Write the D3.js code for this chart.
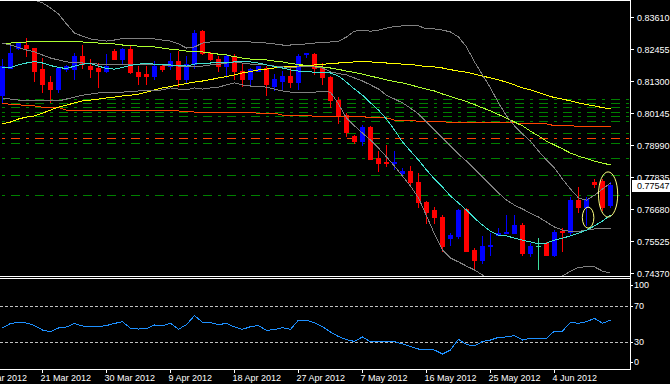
<!DOCTYPE html>
<html><head><meta charset="utf-8">
<script src="https://cdn.jsdelivr.net/npm/d3@7"></script>
<style>
html,body{margin:0;padding:0;background:#000;}
svg{display:block;}
</style></head><body>
<svg id="chart" width="670" height="384"></svg>
<script>
// ---------- DATA ----------
const opens = [.8077,.8178,.8248,.8261,.8248,.8171,.8124,.8099,.8171,.8174,
.8221,.8185,.8178,.8167,.8236,.8210,.8243,.8160,.8153,.8149,
.8182,.8182,.8203,.8135,.8189,.8308,.8232,.8210,.8185,.8218,
.8167,.8138,.8167,.8178,.8113,.8131,.8149,.8124,.8225,.8228,
.8178,.8145,.8062,.8008,.7932,.7911,.7965,.7853,.7837,.7833,
.7799,.7803,.7766,.7694,.7662,.7640,.7564,.7571,.7669,.7521,
.7485,.7534,.7575,.7580,.7582,.7608,.7510,.7532,.7546,.7503,
.7588,.7586,.7698,.7676,.7766,.7770,.7680];
const highs = [.8210,.8254,.8270,.8283,.8250,.8214,.8149,.8178,.8187,.8232,
.8261,.8210,.8196,.8225,.8243,.8250,.8261,.8182,.8182,.8200,
.8189,.8232,.8236,.8218,.8315,.8315,.8234,.8218,.8225,.8225,
.8196,.8178,.8185,.8182,.8156,.8167,.8185,.8228,.8232,.8230,
.8196,.8147,.8073,.8015,.7936,.7972,.7968,.7875,.7900,.7875,
.7817,.7821,.7799,.7696,.7676,.7647,.7582,.7669,.7672,.7528,
.7571,.7582,.7597,.7644,.7644,.7615,.7546,.7564,.7548,.7593,
.7600,.7709,.7748,.7712,.7777,.7777,.7766];
const lows = [.8055,.8176,.8243,.8221,.8131,.8091,.8055,.8091,.8167,.8135,
.8178,.8145,.8109,.8160,.8209,.8189,.8158,.8117,.8117,.8135,
.8167,.8171,.8113,.8127,.8178,.8225,.8205,.8164,.8145,.8138,
.8113,.8113,.8164,.8080,.8095,.8099,.8109,.8099,.8216,.8153,
.8117,.8034,.7979,.7929,.7904,.7900,.7848,.7806,.7821,.7813,
.7792,.7752,.7676,.7618,.7618,.7514,.7539,.7561,.7516,.7456,
.7474,.7503,.7573,.7579,.7580,.7503,.7496,.7452,.7501,.7496,
.7514,.7575,.7658,.7611,.7748,.7662,.7674];
const closes = [.8182,.8232,.8268,.8247,.8165,.8120,.8102,.8176,.8182,.8221,
.8192,.8174,.8167,.8182,.8210,.8243,.8160,.8149,.8149,.8182,
.8174,.8203,.8135,.8189,.8304,.8232,.8207,.8185,.8218,.8164,
.8138,.8171,.8182,.8117,.8135,.8149,.8124,.8221,.8230,.8178,
.8142,.8059,.8005,.7947,.7911,.7965,.7849,.7835,.7833,.7837,
.7806,.7763,.7691,.7655,.7640,.7532,.7575,.7665,.7517,.7485,
.7535,.7539,.7582,.7584,.7608,.7510,.7532,.7532,.7503,.7586,
.7584,.7698,.7676,.7705,.7756,.7676,.77547];

const bbUpper = [.8474,.8459,.8445,.8434,.8423,.8413,.8395,.8373,.8337,.8304,
.8293,.8283,.8279,.8275,.8279,.8284,.8286,.8286,.8286,.8283,
.8279,.8275,.8265,.8250,.8254,.8268,.8272,.8272,.8275,.8275,
.8274,.8272,.8270,.8268,.8265,.8261,.8261,.8263,.8265,.8268,
.8270,.8272,.8274,.8290,.8311,.8315,.8311,.8315,.8322,.8328,
.8330,.8330,.8330,.8319,.8319,.8315,.8308,.8290,.8254,.8200,
.8153,.8106,.8052,.8005,.7969,.7940,.7914,.7878,.7846,.7817,
.7777,.7741,.7709,.7701,.7719,.7741,.7763];
const bbMiddle = [.8268,.8261,.8252,.8243,.8236,.8225,.8214,.8207,.8200,.8198,
.8196,.8194,.8192,.8191,.8189,.8189,.8191,.8192,.8191,.8189,
.8189,.8187,.8185,.8183,.8182,.8185,.8189,.8191,.8196,.8200,
.8196,.8192,.8191,.8189,.8185,.8182,.8180,.8182,.8182,.8182,
.8178,.8164,.8158,.8153,.8142,.8131,.8117,.8102,.8080,.8066,
.8052,.8033,.8012,.7983,.7954,.7925,.7897,.7867,.7842,.7813,
.7784,.7756,.7727,.7701,.7683,.7669,.7654,.7640,.7622,.7604,
.7593,.7588,.7588,.7593,.7597,.7598,.7600];
const bbLower = [.8070,.8066,.8062,.8062,.8062,.8062,.8062,.8059,.8066,.8073,
.8080,.8084,.8088,.8089,.8091,.8091,.8093,.8095,.8095,.8097,
.8099,.8106,.8102,.8099,.8106,.8102,.8106,.8109,.8117,.8124,
.8117,.8113,.8111,.8109,.8102,.8095,.8091,.8091,.8091,.8091,
.8093,.8091,.8048,.7997,.7969,.7943,.7918,.7889,.7857,.7824,
.7788,.7752,.7709,.7644,.7579,.7521,.7492,.7478,.7463,.7449,
.7431,.7413,.7402,.7395,.7395,.7398,.7402,.7402,.7405,.7413,
.7427,.7445,.7458,.7461,.7460,.7445,.7438];
const maFast = [.8178,.8180,.8189,.8196,.8201,.8196,.8187,.8180,.8176,.8185,
.8192,.8194,.8185,.8176,.8174,.8180,.8187,.8192,.8194,.8192,
.8191,.8189,.8187,.8185,.8192,.8196,.8196,.8198,.8198,.8200,
.8200,.8200,.8196,.8189,.8183,.8178,.8171,.8167,.8165,.8163,
.8163,.8160,.8149,.8127,.8102,.8080,.8052,.8026,.7994,.7954,
.7911,.7878,.7846,.7810,.7777,.7748,.7716,.7691,.7665,.7636,
.7611,.7589,.7575,.7572,.7564,.7557,.7550,.7543,.7546,.7557,
.7564,.7572,.7582,.7593,.7608,.7626,.7647];
const maMid = [.8268,.8268,.8270,.8272,.8272,.8272,.8272,.8272,.8272,.8272,
.8272,.8270,.8268,.8268,.8265,.8261,.8259,.8257,.8256,.8254,
.8250,.8246,.8243,.8239,.8237,.8236,.8232,.8228,.8225,.8219,
.8214,.8210,.8209,.8207,.8203,.8200,.8194,.8191,.8187,.8183,
.8182,.8178,.8173,.8167,.8162,.8156,.8149,.8142,.8135,.8129,
.8124,.8117,.8109,.8102,.8095,.8084,.8075,.8066,.8057,.8046,
.8034,.8023,.8010,.7997,.7983,.7969,.7950,.7933,.7914,.7900,
.7886,.7871,.7860,.7851,.7842,.7835,.7828];
const maSlow = [.7976,.7983,.7994,.8001,.8005,.8015,.8026,.8037,.8044,.8052,
.8059,.8062,.8066,.8070,.8073,.8077,.8080,.8084,.8091,.8099,
.8106,.8111,.8117,.8122,.8127,.8131,.8136,.8142,.8147,.8153,
.8160,.8165,.8171,.8174,.8178,.8182,.8183,.8185,.8187,.8189,
.8191,.8194,.8196,.8198,.8200,.8200,.8200,.8198,.8196,.8194,
.8192,.8191,.8187,.8183,.8182,.8178,.8172,.8167,.8163,.8156,
.8149,.8142,.8135,.8127,.8117,.8106,.8099,.8089,.8080,.8071,
.8066,.8059,.8052,.8046,.8041,.8035,.8030];
const maLong = [.8050,.8047,.8046,.8041,.8041,.8036,.8035,.8035,.8026,.8026,
.8026,.8026,.8026,.8026,.8026,.8026,.8026,.8023,.8023,.8023,
.8023,.8023,.8023,.8021,.8019,.8019,.8019,.8019,.8019,.8019,
.8019,.8017,.8015,.8015,.8015,.8008,.8008,.8008,.8008,.8003,
.8003,.8003,.8003,.8003,.8003,.8003,.7998,.7998,.7998,.7990,
.7990,.7990,.7985,.7985,.7985,.7985,.7980,.7980,.7980,.7980,
.7980,.7980,.7980,.7980,.7980,.7976,.7976,.7976,.7976,.7970,
.7970,.7970,.7967,.7967,.7967,.7967,.7967];
const rsi = [45.6,50.6,51.9,51.1,48.3,43.3,41.4,45.6,46.7,50.6,
47.8,47.0,47.0,48.3,50.6,52.6,45.2,44.4,45.0,48.9,
47.8,50.8,44.1,49.4,59.4,51.9,51.4,49.4,50.6,46.7,
44.1,47.0,48.3,42.8,43.9,45.8,44.1,54.4,54.4,51.3,
47.0,41.1,36.1,32.6,30.6,35.6,30.3,30.3,30.3,30.3,
28.0,25.0,22.2,21.7,21.1,16.7,21.1,33.0,27.2,25.6,
30.6,32.2,35.2,35.6,37.2,32.2,34.1,34.1,34.1,42.2,
42.2,51.9,50.8,52.6,56.3,50.8,54.4];

const levelsGreen = [0.8064,0.8049,0.8035,0.8018,0.8002,0.7985,0.7942,0.7904,0.7851,0.7791,0.7718];
const levelsOrange = [0.7924];
const priceTicks = [0.83610,0.82455,0.81300,0.80145,0.78990,0.77835,0.76680,0.75525,0.74370];
const lastPrice = 0.77547;
const dateTickBars = [-3,5,13,21,29,37,45,53,61,69];
const dateTickLabels = ["12 Mar 2012","21 Mar 2012","30 Mar 2012","9 Apr 2012","18 Apr 2012","27 Apr 2012","7 May 2012","16 May 2012","25 May 2012","4 Jun 2012"];
const rsiTicks = [100,70,30,0];
const rsiLevels = [70,30];
// annotation ellipses: centre bar, half width in bars, price top / bottom
const ellipseBar = [73.2, 75.7];
const ellipseHalf = [0.72, 1.2];
const ellipseHi = [0.7676, 0.7803];
const ellipseLo = [0.7600, 0.7640];

// ---------- DRAW ----------
const FONT = "'Liberation Sans', Arial, sans-serif";
const svg = d3.select("#chart");
svg.append("rect").attr("width",670).attr("height",384).attr("fill","#000");
const defs = svg.append("defs");
defs.append("clipPath").attr("id","clipMain").append("rect").attr("x",0).attr("y",1).attr("width",630).attr("height",275);
defs.append("clipPath").attr("id","clipRsi").append("rect").attr("x",0).attr("y",279).attr("width",630).attr("height",90);

const bars = d3.range(closes.length);
const x = d3.scaleLinear().domain([0,76]).range([2,610]);
const y = d3.scaleLinear().domain([0.74370,0.83610]).range([273.3,17.3]);
const yR = d3.scaleLinear().domain([0,100]).range([369,279]);
const px = v => Math.floor(v) + 0.5;

const main = svg.append("g").attr("clip-path","url(#clipMain)");

// horizontal levels
const dashed = (data, color) => main.append("g").selectAll("line").data(data).join("line")
  .attr("x1",0).attr("x2",630).attr("y1",d=>px(y(d))).attr("y2",d=>px(y(d)))
  .attr("stroke",color).attr("stroke-width",1)
  .attr("stroke-dasharray","9 6 3 6").attr("stroke-dashoffset",13)
  .attr("shape-rendering","crispEdges");
dashed(levelsGreen, "#008000");
dashed(levelsOrange, "#ff4500");

// candles
const up = "#0000ff", down = "#ff0000", doji = "#3ce0a0";
const col = i => closes[i] > opens[i] ? up : (closes[i] < opens[i] ? down : doji);
const cg = main.append("g").attr("shape-rendering","crispEdges");
cg.selectAll("line.wick").data(bars).join("line").attr("class","wick")
  .attr("x1",i=>x(i)+0.5).attr("x2",i=>x(i)+0.5)
  .attr("y1",i=>Math.floor(y(highs[i]))).attr("y2",i=>Math.floor(y(lows[i]))+1)
  .attr("stroke",col);
cg.selectAll("rect.body").data(bars).join("rect").attr("class","body")
  .attr("x",i=>x(i)-2).attr("width",5)
  .attr("y",i=>Math.floor(y(Math.max(opens[i],closes[i]))))
  .attr("height",i=>Math.floor(y(Math.min(opens[i],closes[i]))) - Math.floor(y(Math.max(opens[i],closes[i]))) + 1)
  .attr("fill",col);

// indicator lines
const line = arr => d3.line().x((d,i)=>x(i)+0.5).y(d=>y(d))(arr);
const series = [
  [maLong, "#ff4500"], [maSlow, "#ffff00"], [maMid, "#adff2f"],
  [bbUpper, "#808080"], [bbMiddle, "#808080"], [bbLower, "#808080"],
  [maFast, "#40e0d0"]
];
series.forEach(([arr,c]) => main.append("path").attr("d", line(arr))
  .attr("fill","none").attr("stroke",c).attr("stroke-width",1).attr("shape-rendering","crispEdges"));

// ellipses
main.append("g").selectAll("ellipse").data(ellipseBar).join("ellipse")
  .attr("cx",(d)=>x(d)+0.5)
  .attr("cy",(d,i)=>(y(ellipseHi[i])+y(ellipseLo[i]))/2)
  .attr("rx",(d,i)=>x(d+ellipseHalf[i])-x(d))
  .attr("ry",(d,i)=>(y(ellipseLo[i])-y(ellipseHi[i]))/2)
  .attr("fill","none").attr("stroke","#ffff80").attr("stroke-width",1);

// RSI panel
const rg = svg.append("g").attr("clip-path","url(#clipRsi)");
rg.selectAll("line").data(rsiLevels).join("line")
  .attr("x1",0).attr("x2",630).attr("y1",d=>px(yR(d))).attr("y2",d=>px(yR(d)))
  .attr("stroke","#c0c0c0").attr("stroke-dasharray","3 2").attr("shape-rendering","crispEdges");
rg.append("path").attr("d", d3.line().x((d,i)=>x(i)+0.5).y(d=>yR(d))(rsi))
  .attr("fill","none").attr("stroke","#1e90ff").attr("stroke-width",1).attr("shape-rendering","crispEdges");

// frame
const fr = svg.append("g").attr("stroke","#fff").attr("shape-rendering","crispEdges");
[[0,0.5,631,0.5],[630.5,0,630.5,370],[0,276.5,631,276.5],[0,278.5,631,278.5],[0,369.5,631,369.5]]
  .forEach(([a,b,c,d])=>fr.append("line").attr("x1",a).attr("y1",b).attr("x2",c).attr("y2",d));

const styleAxis = g => {
  g.select(".domain").remove();
  g.selectAll("line").attr("stroke","#fff").attr("shape-rendering","crispEdges");
  g.selectAll("text").attr("fill","#fff").attr("font-family",FONT).attr("font-size",9);
};

// price axis
svg.append("g").attr("transform","translate(631,0)")
  .call(d3.axisRight(y).tickValues(priceTicks).tickSize(3).tickPadding(3).tickFormat(d3.format(".5f")))
  .call(styleAxis);

// last price label
const ly = y(lastPrice);
svg.append("rect").attr("x",632).attr("y",Math.round(ly)-5).attr("width",38).attr("height",12).attr("fill","#fff");
svg.append("text").attr("x",637).attr("y",ly+3.8).text(d3.format(".5f")(lastPrice))
  .attr("fill","#000").attr("font-family",FONT).attr("font-size",9);

// RSI axis
svg.append("g").attr("transform","translate(631,0)")
  .call(d3.axisRight(yR).tickValues(rsiTicks).tickSize(2).tickPadding(1).tickFormat(d3.format("d")))
  .call(styleAxis)
  .call(g=>{
    g.selectAll(".tick").filter(d=>d===100).attr("transform",`translate(0,${yR(100)+6})`);
    g.selectAll(".tick").filter(d=>d===0).attr("transform",`translate(0,${yR(0)-6.5})`);
  });

// date axis
svg.append("g").attr("transform","translate(0,369)")
  .call(d3.axisBottom(x).tickValues(dateTickBars).tickSize(4).tickPadding(2).tickFormat((d,i)=>dateTickLabels[i]))
  .call(styleAxis)
  .call(g=>g.selectAll("text").attr("text-anchor","start").attr("dx",-2));
</script>
</body></html>
